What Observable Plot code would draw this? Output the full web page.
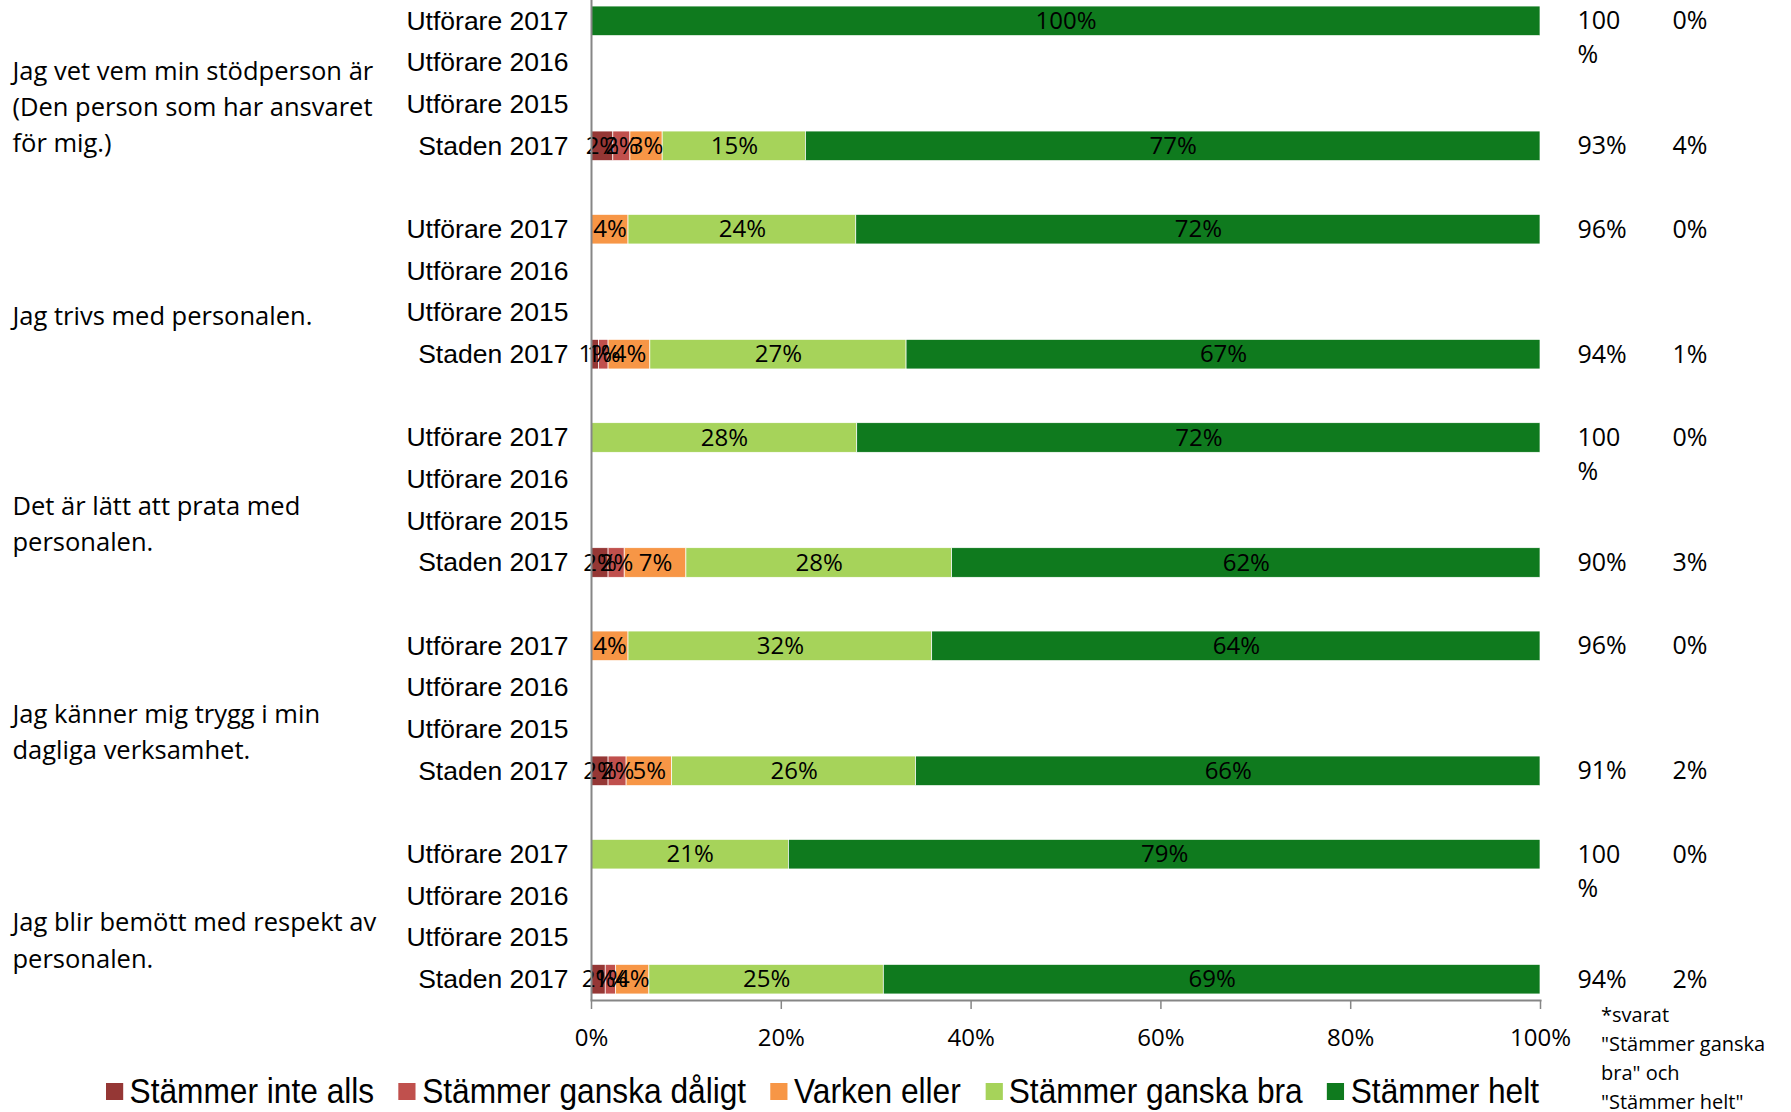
<!DOCTYPE html>
<html><head><meta charset="utf-8">
<script src="https://cdn.jsdelivr.net/npm/d3@7"></script>
<script src="https://cdn.jsdelivr.net/npm/@observablehq/plot@0.6"></script>
<style>
body{margin:0;background:#fff;}
#wrap{position:relative;width:1791px;height:1112px;overflow:hidden;}
#legend{display:flex;align-items:center;margin-left:106px;margin-top:12px;height:38px;line-height:38px;font-family:"Liberation Sans",Arial,sans-serif;font-size:35px;color:#000;white-space:nowrap;transform:scaleX(0.905);transform-origin:0 0;width:max-content}
.item{display:flex;align-items:center;margin-right:27px}
.sw{width:19px;height:17px;margin-right:7px;flex:none}
#note{position:absolute;left:1601px;top:1000px;font-family:"Open Sans";font-size:20px;line-height:29px;white-space:pre;color:#000}
</style></head><body><div id="wrap"></div>
<script>
const questions = [
  "Jag vet vem min stödperson är\n(Den person som har ansvaret\nför mig.)",
  "Jag trivs med personalen.",
  "Det är lätt att prata med\npersonalen.",
  "Jag känner mig trygg i min\ndagliga verksamhet.",
  "Jag blir bemött med respekt av\npersonalen."
];
const rowLabels = ["Utförare 2017", "Utförare 2016", "Utförare 2015", "Staden 2017"];
const responses = ["Stämmer inte alls", "Stämmer ganska dåligt", "Varken eller", "Stämmer ganska bra", "Stämmer helt"];
const colors = ["#953735", "#c0504d", "#f79646", "#a6d35a", "#0f7a1e"];

// percent per response, per question
const utforare2017 = [
  [0, 0, 0, 0, 100],
  [0, 0, 3.9, 24.0, 72.1],
  [0, 0, 0, 28.0, 72.0],
  [0, 0, 3.9, 32.0, 64.1],
  [0, 0, 0, 20.8, 79.2]
];
const staden2017 = [
  [2.3, 1.8, 3.4, 15.1, 77.4],
  [0.8, 1.0, 4.4, 27.0, 66.8],
  [1.8, 1.7, 6.5, 28.0, 62.0],
  [1.8, 1.9, 4.8, 25.7, 65.8],
  [1.5, 1.1, 3.5, 24.7, 69.2]
];
// side columns: positive share* and negative share
const positivUtf = [100, 96, 100, 96, 100];
const negativUtf = [0, 0, 0, 0, 0];
const positivStaden = [93, 94, 90, 91, 94];
const negativStaden = [4, 1, 3, 2, 2];
const xTicks = [0, 20, 40, 60, 80, 100];
const footnote = "*svarat\n\"Stämmer ganska\nbra\" och\n\"Stämmer helt\"";

const table = [];
questions.forEach((q, g) => {
  rowLabels.forEach(r => {
    const vals = r === "Utförare 2017" ? utforare2017[g] : r === "Staden 2017" ? staden2017[g] : null;
    if (!vals) return;
    vals.forEach((v, c) => table.push({key: `${g}|${r}`, response: responses[c], value: v}));
  });
});
const domain = [];
questions.forEach((q, g) => {
  rowLabels.forEach(r => domain.push(`${g}|${r}`));
  if (g < questions.length - 1) domain.push(`${g}|gap`);
});
const side = [];
questions.forEach((q, g) => {
  side.push({key: `${g}|Utförare 2017`, pos: positivUtf[g], neg: negativUtf[g]});
  side.push({key: `${g}|Staden 2017`, pos: positivStaden[g], neg: negativStaden[g]});
});
const fmtSide = v => v === 100 ? "100\n%" : v + "%";
const groupLabels = questions.map((q, g) => ({key: `${g}|Utförare 2015`, text: q}));

const chart = Plot.plot({
  width: 1791,
  height: 1060,
  marginLeft: 591,
  marginRight: 251,
  marginTop: 0,
  marginBottom: 60,
  style: {fontFamily: "Open Sans", fontSize: "24px", background: "white", overflow: "visible", color: "#000"},
  x: {domain: [0, 100], ticks: xTicks, tickFormat: d => d + "%"},
  y: {domain, range: [0, 1000], paddingInner: 0.29, paddingOuter: 0.145, round: false},
  color: {domain: responses, range: colors},
  marks: [
    Plot.barX(table, Plot.stackX({x: "value", y: "key", z: "response", fill: "response", stroke: "white", strokeWidth: 0.7})),
    Plot.text(table.filter(d => d.value > 0), Plot.stackX({x: "value", y: "key", z: "response", text: d => Math.round(d.value) + "%", fill: "black", fontSize: 24})),
    Plot.ruleX([0], {stroke: "#868686", strokeWidth: 2}),
    Plot.axisX({anchor: "bottom", ticks: xTicks, tickFormat: d => d + "%", tickSize: 9, tickPadding: 19, stroke: "#868686", strokeWidth: 1.5, fill: "black", fontSize: 24, label: null}),
    Plot.frame({anchor: "bottom", stroke: "#868686", strokeWidth: 2}),
    Plot.axisY({tickSize: 0, tickPadding: 23, tickFormat: k => k.endsWith("gap") ? "" : k.split("|")[1], fontFamily: "Liberation Sans", fontSize: 26.5, fill: "black", label: null}),
    Plot.text(groupLabels, {y: "key", text: "text", frameAnchor: "left", dx: -579, dy: 0, textAnchor: "start", lineAnchor: "middle", lineHeight: 1.42, fontSize: 25.5, fill: "black"}),
    Plot.text(side, {x: d => 100, y: "key", text: d => fmtSide(d.pos), dx: 37, dy: -16, textAnchor: "start", lineAnchor: "top", lineHeight: 1.36, fontSize: 25, fill: "black"}),
    Plot.text(side, {x: d => 100, y: "key", text: d => fmtSide(d.neg), dx: 132, dy: -16, textAnchor: "start", lineAnchor: "top", lineHeight: 1.36, fontSize: 25, fill: "black"})
  ]
});
const wrap = document.getElementById("wrap");
wrap.appendChild(chart);

const legend = document.createElement("div");
legend.id = "legend";
responses.forEach((r, i) => {
  const it = document.createElement("div");
  it.className = "item";
  const sw = document.createElement("span");
  sw.className = "sw";
  sw.style.background = colors[i];
  const tx = document.createElement("span");
  tx.textContent = r;
  it.appendChild(sw); it.appendChild(tx);
  legend.appendChild(it);
});
wrap.appendChild(legend);

const note = document.createElement("div");
note.id = "note";
note.textContent = footnote;
wrap.appendChild(note);
</script></body></html>
